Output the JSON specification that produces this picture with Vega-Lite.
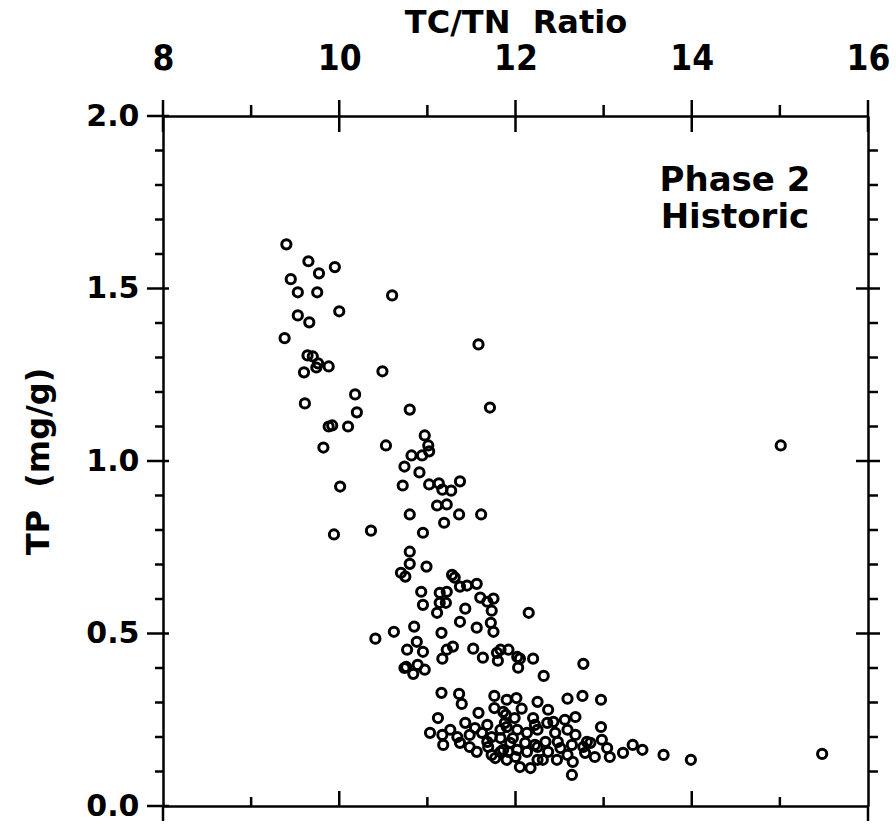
{
  "$schema": "https://vega.github.io/schema/vega-lite/v6.json",
  "width": 705,
  "height": 690,
  "autosize": "none",
  "padding": {"left": 163, "top": 116, "right": 28, "bottom": 19},
  "background": "white",
  "config": {
    "view": {"stroke": null},
    "axis": {"grid": false, "tickColor": "transparent", "tickWidth": 2.5, "domainColor": "black", "domainWidth": 2.5, "labelColor": "black", "titleColor": "black", "labelFlush": false, "labelOverlap": false},
    "rule": {"color": "black", "strokeWidth": 2.5}
  },
  "datasets": {
    "pts": [
      {"r":9.40,"tp":1.628},{"r":9.65,"tp":1.579},{"r":9.95,"tp":1.562},{"r":9.77,"tp":1.544},{"r":9.45,"tp":1.527},
      {"r":9.53,"tp":1.489},{"r":9.75,"tp":1.489},{"r":10.60,"tp":1.480},{"r":10.00,"tp":1.434},{"r":9.53,"tp":1.422},
      {"r":9.66,"tp":1.402},{"r":9.38,"tp":1.356},{"r":11.58,"tp":1.338},{"r":9.64,"tp":1.306},{"r":9.70,"tp":1.303},
      {"r":9.76,"tp":1.283},{"r":9.74,"tp":1.271},{"r":9.88,"tp":1.274},{"r":9.60,"tp":1.257},{"r":10.49,"tp":1.260},
      {"r":10.18,"tp":1.193},{"r":9.61,"tp":1.167},{"r":11.71,"tp":1.155},{"r":10.20,"tp":1.141},{"r":10.80,"tp":1.149},
      {"r":9.88,"tp":1.100},{"r":9.92,"tp":1.103},{"r":10.10,"tp":1.100},{"r":10.97,"tp":1.074},{"r":11.01,"tp":1.045},
      {"r":10.53,"tp":1.045},{"r":9.82,"tp":1.039},{"r":11.02,"tp":1.028},{"r":10.82,"tp":1.016},{"r":10.94,"tp":1.016},
      {"r":10.74,"tp":0.984},{"r":10.91,"tp":0.967},{"r":10.01,"tp":0.926},{"r":10.72,"tp":0.929},{"r":11.02,"tp":0.932},
      {"r":11.13,"tp":0.935},{"r":11.37,"tp":0.941},{"r":11.17,"tp":0.917},{"r":11.27,"tp":0.914},{"r":11.11,"tp":0.871},
      {"r":11.22,"tp":0.874},{"r":10.80,"tp":0.845},{"r":11.36,"tp":0.845},{"r":11.61,"tp":0.845},{"r":11.19,"tp":0.821},
      {"r":9.94,"tp":0.787},{"r":10.36,"tp":0.798},{"r":10.95,"tp":0.792},{"r":10.80,"tp":0.737},{"r":10.80,"tp":0.702},
      {"r":10.99,"tp":0.694},{"r":10.70,"tp":0.676},{"r":10.75,"tp":0.665},{"r":11.28,"tp":0.670},{"r":11.31,"tp":0.662},
      {"r":11.37,"tp":0.636},{"r":11.45,"tp":0.639},{"r":11.56,"tp":0.644},{"r":10.93,"tp":0.621},{"r":11.14,"tp":0.618},
      {"r":11.22,"tp":0.621},{"r":11.60,"tp":0.604},{"r":11.68,"tp":0.592},{"r":11.75,"tp":0.601},{"r":10.95,"tp":0.583},
      {"r":11.14,"tp":0.589},{"r":11.21,"tp":0.589},{"r":11.43,"tp":0.572},{"r":11.11,"tp":0.560},{"r":11.73,"tp":0.566},
      {"r":12.15,"tp":0.560},{"r":10.85,"tp":0.520},{"r":10.62,"tp":0.505},{"r":10.41,"tp":0.485},{"r":11.16,"tp":0.502},
      {"r":11.37,"tp":0.534},{"r":11.56,"tp":0.517},{"r":11.72,"tp":0.531},{"r":11.75,"tp":0.505},{"r":10.88,"tp":0.476},
      {"r":10.77,"tp":0.453},{"r":10.95,"tp":0.447},{"r":11.22,"tp":0.453},{"r":11.29,"tp":0.462},{"r":11.17,"tp":0.427},
      {"r":11.52,"tp":0.456},{"r":11.63,"tp":0.430},{"r":11.79,"tp":0.444},{"r":11.83,"tp":0.453},{"r":11.92,"tp":0.453},
      {"r":11.80,"tp":0.421},{"r":12.02,"tp":0.432},{"r":12.05,"tp":0.427},{"r":12.20,"tp":0.427},{"r":12.03,"tp":0.401},
      {"r":12.32,"tp":0.377},{"r":12.77,"tp":0.412},{"r":10.76,"tp":0.403},{"r":10.84,"tp":0.383},{"r":10.97,"tp":0.395},
      {"r":10.89,"tp":0.409},{"r":10.74,"tp":0.400},{"r":15.01,"tp":1.045},
      {"r":11.16,"tp":0.328},{"r":11.36,"tp":0.325},{"r":11.39,"tp":0.296},{"r":11.76,"tp":0.319},{"r":12.01,"tp":0.313},
      {"r":12.25,"tp":0.302},{"r":12.37,"tp":0.279},{"r":12.59,"tp":0.311},{"r":12.76,"tp":0.319},{"r":12.97,"tp":0.308},
      {"r":11.90,"tp":0.308},{"r":11.12,"tp":0.255},{"r":11.58,"tp":0.270},{"r":11.76,"tp":0.284},{"r":12.07,"tp":0.282},
      {"r":11.89,"tp":0.264},{"r":11.99,"tp":0.255},{"r":12.20,"tp":0.255},{"r":12.43,"tp":0.244},{"r":12.56,"tp":0.250},
      {"r":12.68,"tp":0.258},{"r":11.86,"tp":0.273},{"r":11.43,"tp":0.241},{"r":11.88,"tp":0.241},{"r":12.36,"tp":0.241},
      {"r":12.97,"tp":0.229},{"r":11.03,"tp":0.212},{"r":11.17,"tp":0.206},{"r":11.26,"tp":0.221},{"r":11.34,"tp":0.200},
      {"r":11.48,"tp":0.206},{"r":11.54,"tp":0.226},{"r":11.62,"tp":0.212},{"r":11.68,"tp":0.235},{"r":11.73,"tp":0.200},
      {"r":11.83,"tp":0.221},{"r":11.90,"tp":0.229},{"r":12.02,"tp":0.221},{"r":12.13,"tp":0.212},{"r":12.25,"tp":0.221},
      {"r":12.45,"tp":0.212},{"r":12.59,"tp":0.221},{"r":12.68,"tp":0.206},{"r":12.81,"tp":0.186},{"r":11.83,"tp":0.197},
      {"r":11.97,"tp":0.197},{"r":12.98,"tp":0.192},{"r":12.85,"tp":0.183},{"r":11.18,"tp":0.177},{"r":11.37,"tp":0.183},
      {"r":11.48,"tp":0.171},{"r":11.69,"tp":0.171},{"r":11.86,"tp":0.163},{"r":12.11,"tp":0.183},{"r":12.22,"tp":0.177},
      {"r":12.34,"tp":0.186},{"r":12.48,"tp":0.186},{"r":12.64,"tp":0.177},{"r":12.77,"tp":0.171},{"r":13.04,"tp":0.168},
      {"r":13.33,"tp":0.177},{"r":13.44,"tp":0.163},{"r":13.22,"tp":0.154},{"r":12.79,"tp":0.154},{"r":11.56,"tp":0.157},
      {"r":11.83,"tp":0.157},{"r":11.92,"tp":0.157},{"r":12.13,"tp":0.157},{"r":12.37,"tp":0.157},{"r":12.59,"tp":0.148},
      {"r":12.00,"tp":0.142},{"r":12.90,"tp":0.142},{"r":13.07,"tp":0.142},{"r":13.68,"tp":0.148},{"r":13.99,"tp":0.134},
      {"r":15.48,"tp":0.151},{"r":11.77,"tp":0.139},{"r":11.90,"tp":0.134},{"r":12.25,"tp":0.134},{"r":12.47,"tp":0.134},
      {"r":12.65,"tp":0.128},{"r":12.05,"tp":0.113},{"r":12.17,"tp":0.110},{"r":12.64,"tp":0.090},{"r":12.02,"tp":0.163},
      {"r":11.68,"tp":0.186},{"r":11.94,"tp":0.183},{"r":12.25,"tp":0.171},{"r":12.51,"tp":0.168},{"r":12.31,"tp":0.134},
      {"r":11.73,"tp":0.148},{"r":12.22,"tp":0.235}
    ],
    "notes": [
      {"r": 14.49, "tp": 1.782, "label": "Phase 2"},
      {"r": 14.49, "tp": 1.676, "label": "Historic"}
    ],
    "tx": [
      {"v": 8, "k": "M"}, {"v": 9, "k": "m"}, {"v": 10, "k": "M"}, {"v": 11, "k": "m"}, {"v": 12, "k": "M"},
      {"v": 13, "k": "m"}, {"v": 14, "k": "M"}, {"v": 15, "k": "m"}, {"v": 16, "k": "M"}
    ],
    "ty": [
      {"v": 0.0, "k": "M"}, {"v": 0.1, "k": "m"}, {"v": 0.2, "k": "m"}, {"v": 0.3, "k": "m"}, {"v": 0.4, "k": "m"},
      {"v": 0.5, "k": "M"}, {"v": 0.6, "k": "m"}, {"v": 0.7, "k": "m"}, {"v": 0.8, "k": "m"}, {"v": 0.9, "k": "m"},
      {"v": 1.0, "k": "M"}, {"v": 1.1, "k": "m"}, {"v": 1.2, "k": "m"}, {"v": 1.3, "k": "m"}, {"v": 1.4, "k": "m"},
      {"v": 1.5, "k": "M"}, {"v": 1.6, "k": "m"}, {"v": 1.7, "k": "m"}, {"v": 1.8, "k": "m"}, {"v": 1.9, "k": "m"},
      {"v": 2.0, "k": "M"}
    ]
  },
  "resolve": {"axis": {"x": "independent", "y": "independent"}},
  "layer": [
    {
      "data": {"name": "pts"},
      "mark": {"type": "point", "shape": "circle", "filled": false, "stroke": "black", "strokeWidth": 3, "size": 85, "opacity": 1},
      "encoding": {
        "x": {"field": "r", "type": "quantitative", "scale": {"domain": [8, 16], "nice": false, "zero": false},
          "axis": {"orient": "top", "values": [8, 10, 12, 14, 16], "tickSize": 16, "labelFont": "DejaVu Sans Condensed, DejaVu Sans", "labelFontWeight": "bold", "labelFontSize": 35, "labelPadding": 24,
            "title": "TC/TN\u00a0\u00a0Ratio", "titleFont": "DejaVu Sans", "titleFontWeight": "bold", "titleFontSize": 32, "titlePadding": 2}},
        "y": {"field": "tp", "type": "quantitative", "scale": {"domain": [0, 2], "nice": false, "zero": false},
          "axis": {"orient": "left", "values": [0, 0.5, 1, 1.5, 2], "format": ".1f", "tickSize": 16, "labelFont": "DejaVu Sans", "labelFontWeight": "bold", "labelFontSize": 30, "labelPadding": 8,
            "title": "TP\u00a0\u00a0(mg/g)", "titleFont": "DejaVu Sans", "titleFontWeight": "bold", "titleFontSize": 32, "titlePadding": 30}}
      }
    },
    {
      "data": {"name": "pts"},
      "mark": {"type": "point", "opacity": 0},
      "encoding": {
        "x": {"field": "r", "type": "quantitative", "scale": {"domain": [8, 16], "nice": false, "zero": false}, "axis": {"orient": "bottom", "ticks": false, "labels": false, "domain": true, "title": null}},
        "y": {"field": "tp", "type": "quantitative", "scale": {"domain": [0, 2], "nice": false, "zero": false}, "axis": {"orient": "right", "ticks": false, "labels": false, "domain": true, "title": null}}
      }
    },
    {
      "data": {"name": "tx"},
      "transform": [{"filter": "datum.k == 'M'"}],
      "mark": {"type": "rule"},
      "encoding": {
        "x": {"field": "v", "type": "quantitative", "scale": {"domain": [8, 16], "nice": false, "zero": false}, "axis": null},
        "y": {"datum": 1.9536, "type": "quantitative", "scale": {"domain": [0, 2], "nice": false, "zero": false}, "axis": null},
        "y2": {"datum": 2.0464}
      }
    },
    {
      "data": {"name": "tx"},
      "transform": [{"filter": "datum.k == 'm'"}],
      "mark": {"type": "rule"},
      "encoding": {
        "x": {"field": "v", "type": "quantitative", "axis": null},
        "y": {"datum": 2.0, "type": "quantitative", "axis": null},
        "y2": {"datum": 2.032}
      }
    },
    {
      "data": {"name": "tx"},
      "transform": [{"filter": "datum.k == 'M' && datum.v > 8 && datum.v < 16"}],
      "mark": {"type": "rule"},
      "encoding": {
        "x": {"field": "v", "type": "quantitative", "axis": null},
        "y": {"datum": 0.0, "type": "quantitative", "axis": null},
        "y2": {"datum": 0.0435}
      }
    },
    {
      "data": {"name": "tx"},
      "transform": [{"filter": "datum.v == 8 || datum.v == 16"}],
      "mark": {"type": "rule"},
      "encoding": {
        "x": {"field": "v", "type": "quantitative", "axis": null},
        "y": {"datum": -0.0435, "type": "quantitative", "axis": null},
        "y2": {"datum": 0.0}
      }
    },
    {
      "data": {"name": "tx"},
      "transform": [{"filter": "datum.k == 'm'"}],
      "mark": {"type": "rule"},
      "encoding": {
        "x": {"field": "v", "type": "quantitative", "axis": null},
        "y": {"datum": 0.0, "type": "quantitative", "axis": null},
        "y2": {"datum": 0.026}
      }
    },
    {
      "data": {"name": "ty"},
      "transform": [{"filter": "datum.k == 'M'"}],
      "mark": {"type": "rule"},
      "encoding": {
        "y": {"field": "v", "type": "quantitative", "axis": null},
        "x": {"datum": 7.818, "type": "quantitative", "axis": null},
        "x2": {"datum": 8.068}
      }
    },
    {
      "data": {"name": "ty"},
      "transform": [{"filter": "datum.k == 'm'"}],
      "mark": {"type": "rule"},
      "encoding": {
        "y": {"field": "v", "type": "quantitative", "axis": null},
        "x": {"datum": 7.909, "type": "quantitative", "axis": null},
        "x2": {"datum": 8.0}
      }
    },
    {
      "data": {"name": "ty"},
      "transform": [{"filter": "datum.k == 'M' && datum.v > 0 && datum.v < 2"}],
      "mark": {"type": "rule"},
      "encoding": {
        "y": {"field": "v", "type": "quantitative", "axis": null},
        "x": {"datum": 15.864, "type": "quantitative", "axis": null},
        "x2": {"datum": 16.136}
      }
    },
    {
      "data": {"name": "ty"},
      "transform": [{"filter": "datum.k == 'm'"}],
      "mark": {"type": "rule"},
      "encoding": {
        "y": {"field": "v", "type": "quantitative", "axis": null},
        "x": {"datum": 16.0, "type": "quantitative", "axis": null},
        "x2": {"datum": 16.113}
      }
    },
    {
      "data": {"name": "notes"},
      "mark": {"type": "text", "font": "DejaVu Sans", "fontWeight": "bold", "fontSize": 34, "align": "center", "baseline": "alphabetic", "color": "black"},
      "encoding": {
        "x": {"field": "r", "type": "quantitative", "axis": null},
        "y": {"field": "tp", "type": "quantitative", "axis": null},
        "text": {"field": "label"}
      }
    }
  ]
}
